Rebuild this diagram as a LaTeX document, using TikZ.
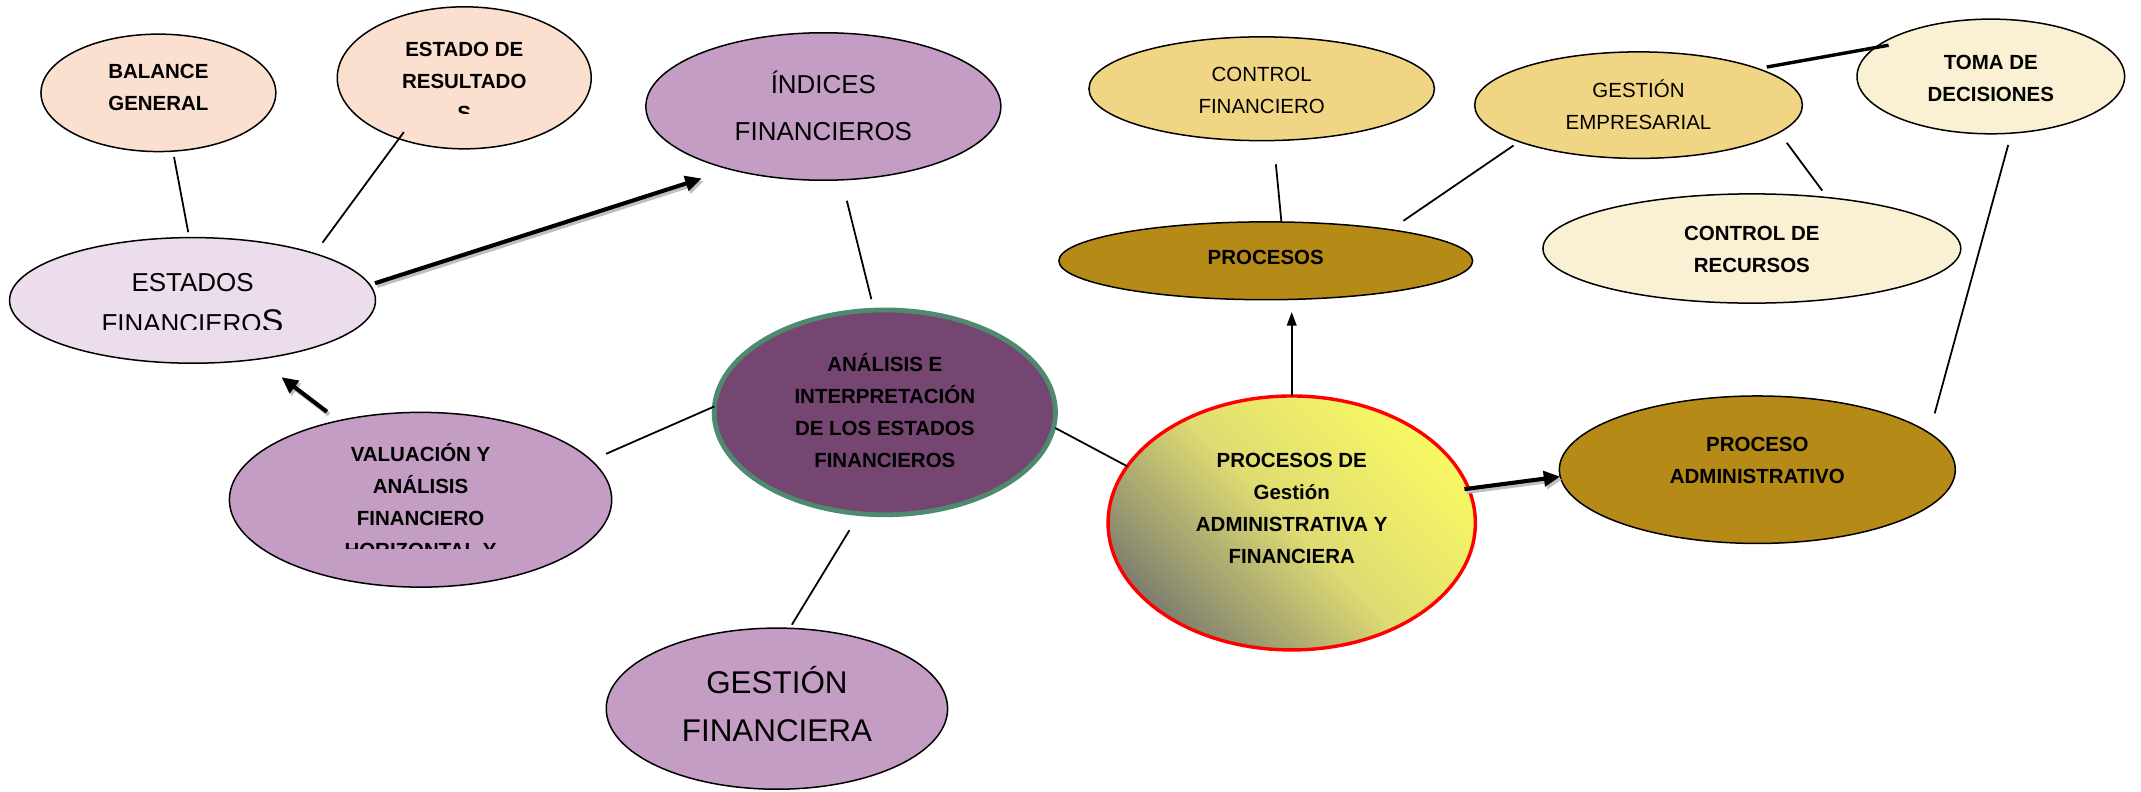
\documentclass[tikz,border=0pt]{standalone}
\usepackage{fontspec}
\setmainfont{Liberation Sans}
\usetikzlibrary{arrows.meta,shapes.geometric}
\definecolor{peach}{HTML}{FBE0CF}
\definecolor{lavlight}{HTML}{EBDDEB}
\definecolor{lavmid}{HTML}{C49DC4}
\definecolor{plumdark}{HTML}{764672}
\definecolor{greenborder}{HTML}{4E8A6E}
\definecolor{goldlight}{HTML}{F0D684}
\definecolor{cream}{HTML}{FAF0D4}
\definecolor{golddark}{HTML}{B58A17}
\definecolor{gradA}{HTML}{7F7F70}
\definecolor{gradM}{HTML}{DEDC72}
\definecolor{gradB}{HTML}{F8F864}
\begin{document}
\begin{tikzpicture}[x=1pt,y=-1pt,
  ell/.style={ellipse, draw=black, line width=1.1pt, inner sep=0pt, outer sep=0pt},
  bt/.style={align=center, inner sep=0pt, text depth=0pt, font=\fontsize{15}{23.5}\selectfont\bfseries},
  rt/.style={align=center, inner sep=0pt, text depth=0pt, font=\fontsize{15}{23.5}\selectfont},
  one/.style={text height=10.7pt},
  two/.style={text height=34.2pt},
  three/.style={text height=57.7pt},
  four/.style={text height=81.2pt},
  conn/.style={line width=1.3pt},
  bigarrow/.style={line width=3pt, -{Triangle[length=12pt,width=11pt]},
    preaction={draw=black!25, line width=3pt, transform canvas={shift={(1.5pt,-2pt)}}}},
  thinarrow/.style={line width=1.5pt, -{Triangle[length=10pt,width=7pt]}}
]
\fill[white] (0,0) rectangle (1568,580);
\useasboundingbox (0,0) rectangle (1568,580);

% ellipses
\node[ell, fill=peach, minimum width=172pt, minimum height=86pt] (bal) at (116,68) {};
\node[ell, fill=peach, minimum width=186pt, minimum height=104pt] (res) at (340,57) {};
\node[ell, fill=lavmid, minimum width=260pt, minimum height=108pt] (ind) at (603,78) {};
\node[ell, fill=lavlight, minimum width=268pt, minimum height=92pt] (est) at (141,220) {};
\node[ell, fill=lavmid, minimum width=280pt, minimum height=128pt] (val) at (308,366) {};
\node[ell, fill=plumdark, draw=greenborder, line width=3.5pt, minimum width=250pt, minimum height=150pt] (ana) at (648,302) {};
\node[ell, fill=lavmid, minimum width=250pt, minimum height=118pt] (gfin) at (569,519) {};
\node[ell, fill=goldlight, minimum width=253pt, minimum height=76pt] (cfin) at (924,65) {};
\node[ell, fill=goldlight, minimum width=240pt, minimum height=78pt] (gemp) at (1200,77) {};
\node[ell, fill=cream, minimum width=196pt, minimum height=84pt] (toma) at (1458,56) {};
\node[ell, fill=cream, minimum width=306pt, minimum height=80pt] (crec) at (1283,182) {};
\node[ell, fill=golddark, minimum width=303pt, minimum height=57pt] (proc) at (927,191) {};
\node[ell, draw=red, line width=2.5pt, bottom color=gradA, top color=gradB, middle color=gradM, shading angle=-45,
      minimum width=269pt, minimum height=186pt] (pgaf) at (946,383) {};
\node[ell, fill=golddark, minimum width=290pt, minimum height=108pt] (padm) at (1287,344) {};

% texts
\node[bt, two] (balT) at (116,64) {BALANCE\\GENERAL};
\begin{scope}
  \clip (250,0) rectangle (430,83);
  \node[bt, three] (resT) at (340,59.5) {ESTADO DE\\RESULTADO\\S};
\end{scope}
\node[rt, font=\fontsize{19}{34}\selectfont, text height=47.6pt] (indT) at (603,79) {ÍNDICES\\FINANCIEROS};
\begin{scope}
  \clip (10,180) rectangle (272,241);
  \node[rt, font=\fontsize{19}{30}\selectfont, text height=43.6pt] (estT) at (141,222)
    {ESTADOS\\FINANCIERO{\fontsize{24}{30}\selectfont S}};
\end{scope}
\begin{scope}
  \clip (170,300) rectangle (446,402);
  \node[bt, four] (valT) at (308,368) {VALUACIÓN Y\\ANÁLISIS\\FINANCIERO\\HORIZONTAL Y};
\end{scope}
\node[bt, four] (anaT) at (648,302) {ANÁLISIS E\\INTERPRETACIÓN\\DE LOS ESTADOS\\FINANCIEROS};
\node[rt, font=\fontsize{23}{35}\selectfont, text height=51.5pt] (gfinT) at (569,517.5) {GESTIÓN\\FINANCIERA};
\node[rt, two] (cfinT) at (924,66) {CONTROL\\FINANCIERO};
\node[rt, two] (gempT) at (1200,77.5) {GESTIÓN\\EMPRESARIAL};
\node[bt, two] (tomaT) at (1458,57) {TOMA DE\\DECISIONES};
\node[bt, two] (crecT) at (1283,182.5) {CONTROL DE\\RECURSOS};
\node[bt, one] (procT) at (927,188) {PROCESOS};
\node[bt, four] (pgafT) at (946,372) {PROCESOS DE\\Gestión\\ADMINISTRATIVA Y\\FINANCIERA};
\node[bt, two] (padmT) at (1287,337) {PROCESO\\ADMINISTRATIVO};

% connectors
\draw[conn, shorten <=4.4pt, shorten >=4pt] (bal.-76.8) -- (est.93.4);
\draw[conn, shorten <=-6pt, shorten >=9.9pt] (res.-137) -- (est.21.2);
\draw[bigarrow, shorten <=4pt, shorten >=22pt] (est.5.1) -- (ind.-146.3);
\draw[conn, shorten <=15.8pt, shorten >=8.3pt] (ind.-76.2) -- (ana.96.9);
\draw[bigarrow, shorten <=10.9pt, shorten >=21.9pt] (val.136.7) -- (est.-42.6);
\draw[conn, shorten <=11.9pt] (val.13.7) -- (ana.178);
\draw[conn, shorten <=14.2pt, shorten >=3.1pt] (ana.-104) -- (gfin.81.7);
\draw[conn, shorten <=1.3pt] (ana.-5) -- (pgaf.161.6);
\draw[thinarrow, shorten >=9pt] (pgaf.north) -- (pgaf.north |- proc.south);
\draw[bigarrow, shorten <=-3pt] (pgaf.11.75) -- (padm.-178.8);
\draw[conn, shorten <=17.5pt] (cfin.-77.7) -- (proc.68.6);
\draw[conn, shorten <=11.6pt, shorten >=5pt] (proc.14.6) -- (gemp.-163.2);
\draw[conn, line width=2.5pt, shorten <=6.6pt, shorten >=-10pt] (gemp.17.3) -- (toma.166.7);
\draw[conn, shorten <=9.4pt, shorten >=6.3pt] (gemp.-11.1) -- (crec.34.3);
\draw[conn, shorten <=9pt, shorten >=15pt] (toma.-70.2) -- (padm.12.6);
\end{tikzpicture}
\end{document}
